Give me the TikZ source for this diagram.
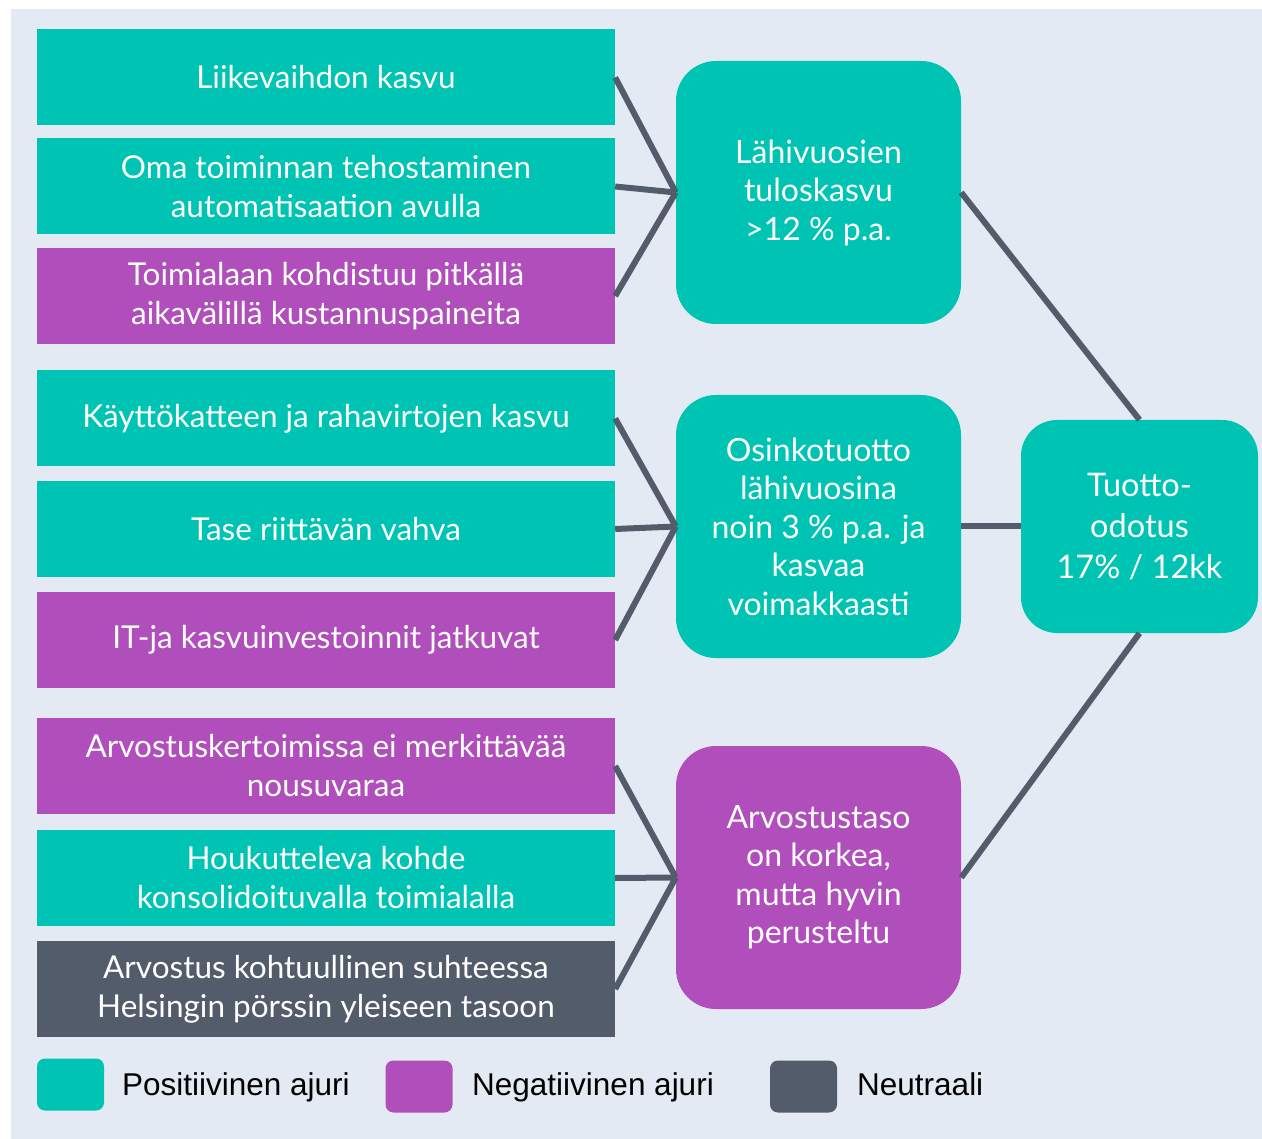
\documentclass[tikz,border=0pt]{standalone}
\usepackage{fontspec}
\setmainfont{Lato}
\newfontfamily\legendfont{Liberation Sans}
\usepackage{tikz}
\usetikzlibrary{positioning}

\definecolor{posgreen}{HTML}{00C4B3}
\definecolor{negpurple}{HTML}{B04FBB}
\definecolor{neutgray}{HTML}{525C6B}
\definecolor{bgblue}{HTML}{E4EAF4}

\tikzset{
  driver/.style={fill=#1, text=white, minimum width=578pt, minimum height=96pt,
    inner sep=0pt, align=center, font=\fontsize{31.5}{39}\selectfont},
  factor/.style={fill=#1, text=white, rounded corners=40pt, minimum width=285pt,
    minimum height=263pt, inner sep=0pt, align=center, font=\fontsize{32}{38.5}\selectfont},
  result/.style={fill=posgreen, text=white, rounded corners=36pt, minimum width=237pt,
    minimum height=213pt, inner sep=0pt, align=center, font=\fontsize{32.5}{41}\selectfont},
  link/.style={draw=neutgray, line width=6pt},
  legbox/.style={fill=#1, rounded corners=8pt, minimum width=67pt, minimum height=52pt, inner sep=0pt},
  legtext/.style={anchor=base west, inner sep=0pt, font=\legendfont\fontsize{31.5}{36}\selectfont}
}

\begin{document}
\begin{tikzpicture}[x=1pt, y=-1pt]

\useasboundingbox (0,0) rectangle (1262,1139);
\fill[white] (0,0) rectangle (1262,1139);
\fill[bgblue] (11,9) rectangle (1262,1139);

% drivers
\node[driver=posgreen] (kasvu) at (326,77.5) {Liikevaihdon kasvu};
\node[driver=posgreen] (tehostus) at (326,186.5) {Oma toiminnan tehostaminen\\automatisaation avulla};
\node[driver=negpurple] (paineet) at (326,296) {Toimialaan kohdistuu pitkällä\\aikavälillä kustannuspaineita};

\node[driver=posgreen] (katteet) at (326,418.5) {Käyttökatteen ja rahavirtojen kasvu};
\node[driver=posgreen] (tase) at (326,529) {Tase riittävän vahva};
\node[driver=negpurple] (investoinnit) at (326,640) {IT-ja kasvuinvestoinnit jatkuvat};

\node[driver=negpurple] (kertoimet) at (326,766) {Arvostuskertoimissa ei merkittävää\\nousuvaraa};
\node[driver=posgreen] (kohde) at (326,878) {Houkutteleva kohde\\konsolidoituvalla toimialalla};
\node[driver=neutgray] (porssi) at (326,989) {Arvostus kohtuullinen suhteessa\\Helsingin pörssin yleiseen tasoon};

% factors
\node[factor=posgreen] (tulos) at (818.5,192.5) {Lähivuosien\\tuloskasvu\\>12 \% p.a.};
\node[factor=posgreen] (osinko) at (818.5,526.5) {Osinkotuotto\\lähivuosina\\noin 3 \% p.a. ja\\kasvaa\\voimakkaasti};
\node[factor=negpurple] (arvostus) at (818.5,877.5) {Arvostustaso\\on korkea,\\mutta hyvin\\perusteltu};

\node[result] (tuotto) at (1139.5,526.5) {Tuotto-\\odotus\\17\% / 12kk};

% links
\foreach \d in {kasvu,tehostus,paineet} \draw[link] (\d.east) -- (tulos.west);
\foreach \d in {katteet,tase,investoinnit} \draw[link] (\d.east) -- (osinko.west);
\foreach \d in {kertoimet,kohde,porssi} \draw[link] (\d.east) -- (arvostus.west);

\draw[link] (tulos.east) -- (tuotto.north);
\draw[link] (osinko.east) -- (tuotto.west);
\draw[link] (arvostus.east) -- (tuotto.south);

% legend
\node[legbox=posgreen] (lpos) at (70.5,1084.5) {};
\node[legtext] (tpos) at (122,1095) {Positiivinen ajuri};
\node[legbox=negpurple] (lneg) at (419,1086.5) {};
\node[legtext] (tneg) at (472,1095) {Negatiivinen ajuri};
\node[legbox=neutgray] (lneu) at (803.5,1086.5) {};
\node[legtext] (tneu) at (857,1095) {Neutraali};

\end{tikzpicture}
\end{document}
